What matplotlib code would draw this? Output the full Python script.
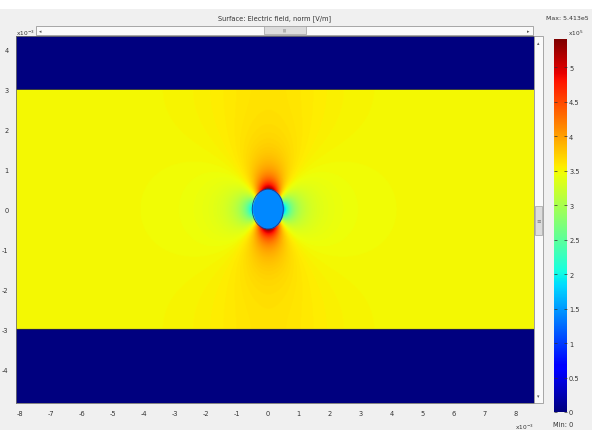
import numpy as np
import matplotlib
matplotlib.use("Agg")
import matplotlib.pyplot as plt
from matplotlib.patches import Rectangle, Ellipse

# values (field in 1e5 V/m, lengths in mm)
e_background = 3.5       # uniform field inside the slab, far from the hole
e_max = 5.413            # peak at the hole poles
e_min = 0.0
e_hole = 1.4             # field inside the hole
hole_radius = 0.5
slab_half = 3.0
x_range = (-8.13, 8.58)
y_range = (-4.85, 4.33)
x_ticks = list(range(-8, 9))
y_ticks = list(range(-4, 5))
cbar_ticks = [0, 0.5, 1, 1.5, 2, 2.5, 3, 3.5, 4, 4.5, 5]
cbar_labels = ["0", "0.5", "1", "1.5", "2", "2.5", "3", "3.5", "4", "4.5", "5"]
title = "Surface: Electric field, norm [V/m]"

plt.rcParams["font.family"] = ["Liberation Sans Narrow", "DejaVu Sans"]
plt.rcParams["mathtext.default"] = "regular"
txt = "#333333"
fs = 4.8

# field of a hole in a slab between two plates (dipole + images)
K = e_max / e_background - 1
xs = np.linspace(x_range[0], x_range[1], 1000)
ys = np.linspace(y_range[0], y_range[1], 700)
X, Y = np.meshgrid(xs, ys)
a2 = hole_radius ** 2
Ex = np.zeros_like(X)
Ey = np.full_like(X, e_background)
with np.errstate(divide="ignore", invalid="ignore"):
    for n in range(-6, 7):
        dy = Y - 2 * slab_half * n
        r4 = (X ** 2 + dy ** 2) ** 2
        Ex += 2 * K * e_background * a2 * X * dy / r4
        Ey -= K * e_background * a2 * (X ** 2 - dy ** 2) / r4
E = np.hypot(Ex, Ey)
E[X ** 2 + Y ** 2 < a2] = e_hole
E[np.abs(Y) > slab_half] = e_min

fig = plt.figure(figsize=(5.92, 4.31), dpi=100, facecolor="#f0f0f0")
W, H = 592.0, 431.0

def fx(px):
    return px / W

def fy(py):
    return 1 - py / H

# white strip at the very top of the window
fig.patches.append(Rectangle((0, fy(10)), 1, 10 / H, transform=fig.transFigure,
                             facecolor="white", edgecolor="none", zorder=0))

ax = fig.add_axes([fx(15.5), fy(404), fx(534 - 15.5), (404 - 37) / H])
ax.imshow(E, extent=[x_range[0], x_range[1], y_range[0], y_range[1]], origin="lower",
          cmap="jet", vmin=e_min, vmax=e_max, aspect="auto", interpolation="bilinear")
ax.axhline(slab_half, color="#202040", lw=0.5)
ax.axhline(-slab_half, color="#202040", lw=0.5)
ax.add_patch(Ellipse((0, 0), 2 * hole_radius, 2 * hole_radius, facecolor="none",
                     edgecolor="#1a3a90", lw=0.6))
ax.set_xlim(*x_range)
ax.set_ylim(*y_range)
ax.set_xticks(x_ticks)
ax.set_yticks(y_ticks)
ax.set_xticklabels([str(v) for v in x_ticks])
ax.set_yticklabels([str(v) for v in y_ticks])
ax.tick_params(length=0, labelsize=fs, labelcolor=txt, pad=5)
for s in ax.spines.values():
    s.set_color("#707070")
    s.set_linewidth(0.6)

fig.text(fx(275), fy(19), title, ha="center", va="center", fontsize=fs, color=txt)
fig.text(fx(16), fy(33), r"x10$^{-3}$", ha="left", va="center", fontsize=fs - 0.6, color=txt)
fig.text(fx(515), fy(427), r"x10$^{-3}$", ha="left", va="center", fontsize=fs - 0.6, color=txt)

# scrollbars of the plot window
sb = dict(transform=fig.transFigure, facecolor="#fafafa", edgecolor="#9a9a9a", lw=0.6)
fig.patches.append(Rectangle((fx(36), fy(36)), fx(533 - 36), 9 / H, **sb))
fig.patches.append(Rectangle((fx(264), fy(35)), fx(42), 8 / H, transform=fig.transFigure,
                             facecolor="#dcdcdc", edgecolor="#a0a0a0", lw=0.5))
fig.text(fx(285), fy(31), "|||", ha="center", va="center", fontsize=3.2, color="#777777",
         family="DejaVu Sans")
fig.text(fx(40), fy(31.5), "\u25c2", ha="center", va="center", fontsize=3.5, color="#555555",
         family="DejaVu Sans")
fig.text(fx(528), fy(31.5), "\u25b8", ha="center", va="center", fontsize=3.5, color="#555555",
         family="DejaVu Sans")
fig.patches.append(Rectangle((fx(534), fy(404)), fx(9), (404 - 37) / H, **sb))
fig.patches.append(Rectangle((fx(535), fy(236)), fx(7), 29 / H, transform=fig.transFigure,
                             facecolor="#dcdcdc", edgecolor="#a0a0a0", lw=0.5))
fig.text(fx(538.5), fy(221), "\u2261", ha="center", va="center", fontsize=4, color="#777777",
         family="DejaVu Sans")
fig.text(fx(538.5), fy(44), "\u25b4", ha="center", va="center", fontsize=3.5, color="#555555",
         family="DejaVu Sans")
fig.text(fx(538.5), fy(397), "\u25be", ha="center", va="center", fontsize=3.5, color="#555555",
         family="DejaVu Sans")

# colour legend
cax = fig.add_axes([fx(554), fy(413), fx(13), (413 - 40) / H])
grad = np.linspace(e_min, e_max, 256).reshape(-1, 1)
cax.imshow(grad, extent=[0, 1, e_min, e_max], origin="lower", cmap="jet",
           vmin=e_min, vmax=e_max, aspect="auto")
cax.set_xlim(0, 1)
cax.set_ylim(e_min, e_max)
cax.set_xticks([])
cax.yaxis.tick_right()
cax.set_yticks(cbar_ticks)
cax.set_yticklabels(cbar_labels)
cax.tick_params(axis="y", which="both", left=True, right=True, direction="in", length=2,
                width=0.5, color="#333333", labelsize=fs, labelcolor=txt, pad=1.5)
for s in cax.spines.values():
    s.set_visible(False)

fig.text(fx(589), fy(18), "Max: 5.413e5", ha="right", va="center", fontsize=fs - 0.3, color=txt)
fig.text(fx(568), fy(33), r"x10$^{5}$", ha="left", va="center", fontsize=fs - 0.6, color=txt)
fig.text(fx(563), fy(425), "Min: 0", ha="center", va="center", fontsize=fs, color=txt)

fig.savefig("out.png", dpi=100, facecolor=fig.get_facecolor())
